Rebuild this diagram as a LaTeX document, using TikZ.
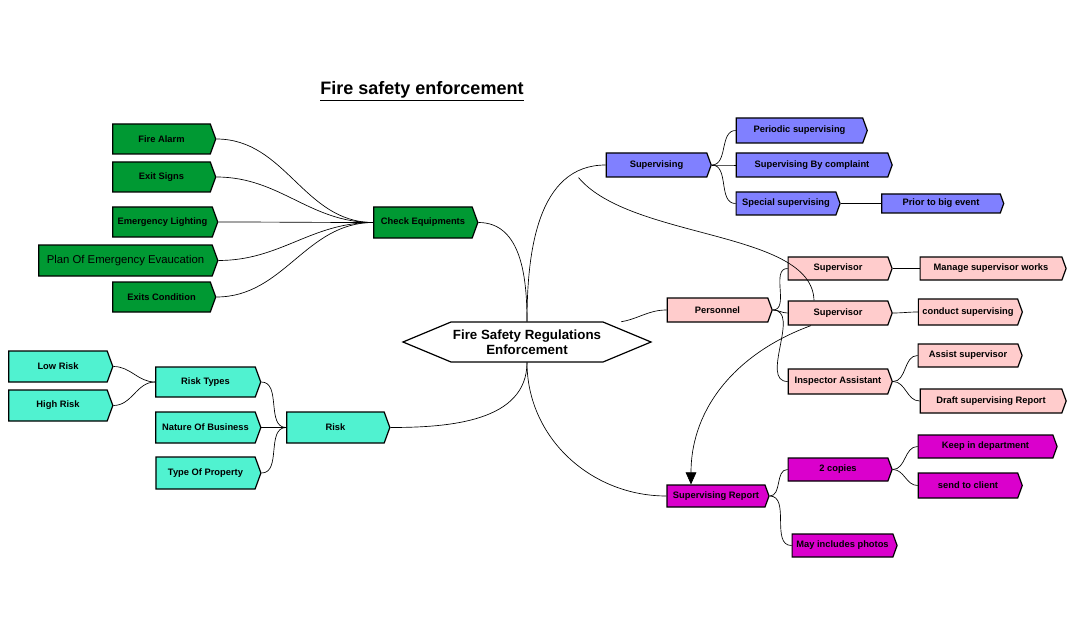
\documentclass[tikz,border=0pt]{standalone}
\usepackage{fontspec}
\setmainfont{Liberation Sans}
\usetikzlibrary{shapes.symbols,arrows.meta}
\definecolor{cgreen}{RGB}{0,153,51}
\definecolor{ccyan}{RGB}{80,242,208}
\definecolor{cpurp}{RGB}{128,128,255}
\definecolor{cpink}{RGB}{255,204,204}
\definecolor{cmag}{RGB}{218,0,204}
\newcommand\bx[7]{\node[bx,fill=#1,minimum width={(#5-#3)*0.75pt},minimum height={(#6-#4)*0.75pt}] (#2) at ({(#3+#5)/2},{(#4+#6)/2}) {#7};}
\begin{document}
\begin{tikzpicture}[x=0.75pt,y=-0.75pt,
  bx/.style={signal,signal to=east,signal pointer angle=140,draw=black,line width=0.9pt,inner sep=0pt,font=\fontsize{7}{8}\selectfont\bfseries},
  ln/.style={draw=black,line width=0.5pt}]
\useasboundingbox (0,0) rectangle (1078,638);
\node[font=\fontsize{13.5}{15}\selectfont\bfseries] (t) at (422,91) {\underline{Fire safety enforcement}};
% centre
\node[minimum width=248*0.75pt,minimum height=40*0.75pt,inner sep=0pt,font=\fontsize{10}{11}\selectfont\bfseries,align=center] (c) at (527,342) {Fire Safety Regulations\\Enforcement};
\draw[line width=0.9pt,fill=white] (403,342) -- (451,322) -- (603,322) -- (651,342) -- (603,362) -- (451,362) -- cycle;
\node[font=\fontsize{10}{11}\selectfont\bfseries,align=center] at (527,342) {Fire Safety Regulations\\Enforcement};
% green
\bx{cgreen}{fa}{110}{124}{213}{154}{Fire Alarm}
\bx{cgreen}{es}{110}{162}{213}{192}{Exit Signs}
\bx{cgreen}{el}{110}{207}{215}{237}{Emergency Lighting}
\node[bx,fill=cgreen,minimum width={179*0.75pt},minimum height={31*0.75pt},font=\fontsize{8.5}{10}\selectfont] (pe) at (125.5,260.5) {Plan Of Emergency Evaucation};
\bx{cgreen}{ec}{110}{282}{213}{312}{Exits Condition}
\bx{cgreen}{ce}{371}{207}{475}{238}{Check Equipments}
% cyan
\bx{ccyan}{lr}{6}{351}{110}{382}{Low Risk}
\bx{ccyan}{hr}{6}{390}{110}{421}{High Risk}
\bx{ccyan}{rt}{153}{367}{258}{397}{Risk Types}
\bx{ccyan}{nb}{153}{412}{258}{443}{Nature Of Business}
\bx{ccyan}{tp}{153}{457}{258}{489}{Type Of Property}
\bx{ccyan}{rk}{284}{412}{387}{443}{Risk}
% purple
\bx{cpurp}{sv}{604}{153}{709}{177}{Supervising}
\bx{cpurp}{ps}{734}{118}{865}{143}{Periodic supervising}
\bx{cpurp}{bc}{734}{153}{890}{177}{Supervising By complaint}
\bx{cpurp}{ss}{734}{192}{838}{215}{Special supervising}
\bx{cpurp}{pb}{880}{194}{1002}{213}{Prior to big event}
% pink
\bx{cpink}{pn}{665}{298}{770}{322}{Personnel}
\bx{cpink}{s1}{786}{257}{890}{280}{Supervisor}
\bx{cpink}{s2}{786}{301}{890}{325}{Supervisor}
\bx{cpink}{ia}{786}{369}{890}{394}{Inspector Assistant}
\bx{cpink}{mw}{918}{257}{1064}{280}{Manage supervisor works}
\bx{cpink}{cs}{916}{299}{1020}{325}{conduct supervising}
\bx{cpink}{as}{916}{344}{1020}{367}{Assist supervisor}
\bx{cpink}{dr}{918}{389}{1064}{413}{Draft supervising Report}
% magenta
\bx{cmag}{sr}{665}{485}{767}{507}{Supervising Report}
\bx{cmag}{tc}{786}{458}{890}{481}{2 copies}
\bx{cmag}{kd}{916}{435}{1055}{458}{Keep in department}
\bx{cmag}{sc}{916}{473}{1020}{498}{send to client}
\bx{cmag}{mp}{790}{534}{895}{557}{May includes photos}
% connectors
\foreach \a in {fa,es,el,pe,ec} \draw[ln] (\a.east) to[out=0,in=180] (ce.west);
\foreach \a in {lr,hr} \draw[ln] (\a.east) to[out=0,in=180] (rt.west);
\foreach \a in {rt,nb,tp} \draw[ln] (\a.east) to[out=0,in=180] (rk.west);
\foreach \b in {ps,bc,ss} \draw[ln] (sv.east) to[out=0,in=180] (\b.west);
\draw[ln] (ss.east) -- (pb.west);
\foreach \b in {s1,s2,ia} \draw[ln] (pn.east) to[out=0,in=180] (\b.west);
\draw[ln] (s1.east) -- (mw.west);
\draw[ln] (s2.east) to[out=0,in=180] (cs.west);
\foreach \b in {as,dr} \draw[ln] (ia.east) to[out=0,in=180] (\b.west);
\foreach \b in {tc,mp} \draw[ln] (sr.east) to[out=0,in=180] (\b.west);
\foreach \b in {kd,sc} \draw[ln] (tc.east) to[out=0,in=180] (\b.west);
\draw[ln] (c.north) to[out=90,in=0] (ce.east);
\draw[ln] (c.north) to[out=90,in=180] (sv.west);
\draw[ln] (c.south) to[out=270,in=0] (rk.east);
\draw[ln] (c.south) to[out=270,in=180] (sr.west);
\draw[ln] ([xshift=-30*0.75pt]c.north east) to[out=10,in=180] (pn.west);
\draw[ln] ([xshift=-(78*0.75pt)]sv.south) .. controls (631,240) and (812,230) .. ([xshift=-(24*0.75pt)]s2.north);
\draw[ln,-{Triangle[length=9pt,width=8pt]}] ([xshift=-(27*0.75pt)]s2.south) to[out=200,in=90] ([xshift=-(25*0.75pt)]sr.north);
\end{tikzpicture}
\end{document}
